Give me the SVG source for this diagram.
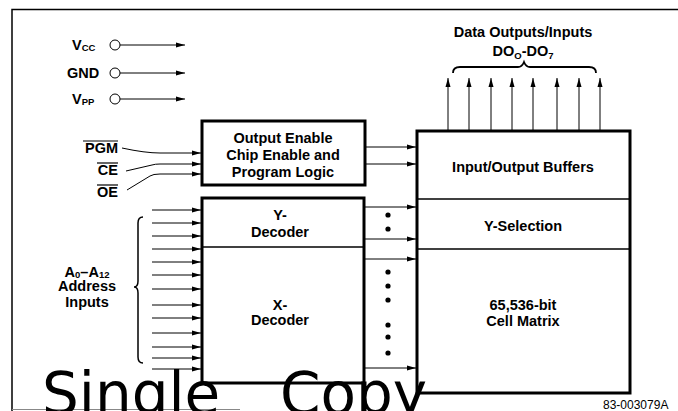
<svg xmlns="http://www.w3.org/2000/svg" width="678" height="411" viewBox="0 0 678 411">
<style>
.t{font-family:"Liberation Sans",Arial,sans-serif;font-weight:bold;font-size:14.5px;fill:#000}
.s{font-size:9.5px}
.c{text-anchor:middle}
.r{text-anchor:end}
.box{fill:none;stroke:#000;stroke-width:3}
.div{stroke:#000;stroke-width:1.6}
.w{stroke:#000;stroke-width:1;fill:none}
.dot{fill:#000}
.wm{font-family:"DejaVu Sans",sans-serif;font-size:58px;fill:#000}
</style>
<defs>
<marker id="ah" markerUnits="userSpaceOnUse" markerWidth="9" markerHeight="6" refX="9" refY="3" orient="auto">
<path d="M0,0.5 L9,3 L0,5.5 z" fill="#000"/>
</marker>
</defs>
<rect width="678" height="411" fill="#fff"/>
<g id="frame">
<path d="M12,411 V9.5 H678" fill="none" stroke="#000" stroke-width="1.5"/>
<line x1="12" y1="409.5" x2="240" y2="409.5" stroke="#888" stroke-width="1.2"/>
</g>
<g id="power">
<text class="t" x="72" y="50">V<tspan class="s" dy="1">CC</tspan></text>
<text class="t" x="67" y="78">GND</text>
<text class="t" x="72" y="104">V<tspan class="s" dy="1">PP</tspan></text>
<circle cx="115" cy="45" r="5" fill="#fff" stroke="#000" stroke-width="1"/>
<circle cx="115" cy="73" r="5" fill="#fff" stroke="#000" stroke-width="1"/>
<circle cx="115" cy="99" r="5" fill="#fff" stroke="#000" stroke-width="1"/>
</g>
<g id="controls">
<text class="t r" x="118" y="153">PGM</text>
<text class="t r" x="118" y="175">CE</text>
<text class="t r" x="118" y="197">OE</text>
<line x1="83" y1="141" x2="118" y2="141" stroke="#000" stroke-width="1.2"/>
<line x1="97" y1="163" x2="118" y2="163" stroke="#000" stroke-width="1.2"/>
<line x1="97" y1="185" x2="118" y2="185" stroke="#000" stroke-width="1.2"/>
</g>
<g id="logic">
<rect class="box" x="202" y="121" width="163" height="64"/>
<text class="t c" x="283" y="143">Output Enable</text>
<text class="t c" x="283" y="160">Chip Enable and</text>
<text class="t c" x="283" y="177">Program Logic</text>
</g>
<g id="decoder">
<rect class="box" x="202" y="198" width="162" height="185"/>
<line class="div" x1="202" y1="247" x2="364" y2="247"/>
<text class="t c" x="280" y="220">Y-</text>
<text class="t c" x="280" y="237">Decoder</text>
<text class="t c" x="280" y="310">X-</text>
<text class="t c" x="280" y="325">Decoder</text>
</g>
<g id="memory">
<rect class="box" x="417" y="131" width="213" height="262"/>
<line class="div" x1="417" y1="199" x2="630" y2="199"/>
<line class="div" x1="417" y1="249" x2="630" y2="249"/>
<text class="t c" x="523" y="172">Input/Output Buffers</text>
<text class="t c" x="523" y="231">Y-Selection</text>
<text class="t c" x="523" y="310">65,536-bit</text>
<text class="t c" x="523" y="326">Cell Matrix</text>
</g>
<g id="data-label">
<text class="t c" x="523" y="37">Data Outputs/Inputs</text>
<text class="t c" x="523" y="56">DO<tspan class="s" dy="3">O</tspan><tspan dy="-3">-DO</tspan><tspan class="s" dy="3">7</tspan></text>
<path d="M453,73 Q453,67 460,67 H518 Q522,67 524,62 Q526,67 530,67 H589 Q596,67 596,73" fill="none" stroke="#000" stroke-width="1.8"/>
</g>
<g id="address-label">
<text class="t c" x="87" y="277">A<tspan class="s" dy="1">0</tspan><tspan dy="-1">–A</tspan><tspan class="s" dy="1">12</tspan></text>
<text class="t c" x="87" y="291">Address</text>
<text class="t c" x="87" y="307">Inputs</text>
<path d="M143,217 Q138,217 138,223 V281 Q138,287 134,287 Q138,287 138,293 V357 Q138,363 143,363" fill="none" stroke="#000" stroke-width="1.5"/>
</g>
<g id="dots">
<circle class="dot" cx="388" cy="215" r="2.6"/>
<circle class="dot" cx="388" cy="229" r="2.6"/>
<circle class="dot" cx="388" cy="272" r="2.6"/>
<circle class="dot" cx="388" cy="286" r="2.6"/>
<circle class="dot" cx="388" cy="300" r="2.6"/>
<circle class="dot" cx="388" cy="325" r="2.6"/>
<circle class="dot" cx="388" cy="337" r="2.6"/>
<circle class="dot" cx="388" cy="353" r="2.6"/>
</g>
<g id="connectors" marker-end="url(#ah)">
<line class="w" x1="120" y1="45" x2="185" y2="45"/>
<line class="w" x1="120" y1="73" x2="185" y2="73"/>
<line class="w" x1="120" y1="99" x2="185" y2="99"/>
<path class="w" d="M122,148 Q145,153 160,153 H201"/>
<path class="w" d="M126,171 L152,165 Q155,164 160,164 H201"/>
<path class="w" d="M127,190 L150,176 Q153,174 160,174 H201"/>
<line class="w" x1="365" y1="147" x2="416" y2="147"/>
<line class="w" x1="365" y1="164" x2="416" y2="164"/>
<line class="w" x1="365" y1="207" x2="416" y2="207"/>
<line class="w" x1="365" y1="239" x2="416" y2="239"/>
<line class="w" x1="365" y1="259" x2="416" y2="259"/>
<line class="w" x1="365" y1="368" x2="416" y2="368"/>
<line class="w" x1="152" y1="210" x2="201" y2="210"/>
<line class="w" x1="152" y1="223" x2="201" y2="223"/>
<line class="w" x1="152" y1="236" x2="201" y2="236"/>
<line class="w" x1="152" y1="249" x2="201" y2="249"/>
<line class="w" x1="152" y1="262" x2="201" y2="262"/>
<line class="w" x1="152" y1="275" x2="201" y2="275"/>
<line class="w" x1="152" y1="289" x2="201" y2="289"/>
<line class="w" x1="152" y1="305" x2="201" y2="305"/>
<line class="w" x1="152" y1="318" x2="201" y2="318"/>
<line class="w" x1="152" y1="333" x2="201" y2="333"/>
<line class="w" x1="152" y1="347" x2="201" y2="347"/>
<line class="w" x1="152" y1="358" x2="201" y2="358"/>
<line class="w" x1="152" y1="369" x2="201" y2="369"/>
<line class="w" x1="448" y1="130" x2="448" y2="78"/>
<line class="w" x1="469" y1="130" x2="469" y2="78"/>
<line class="w" x1="491" y1="130" x2="491" y2="78"/>
<line class="w" x1="512" y1="130" x2="512" y2="78"/>
<line class="w" x1="533" y1="130" x2="533" y2="78"/>
<line class="w" x1="557" y1="130" x2="557" y2="78"/>
<line class="w" x1="579" y1="130" x2="579" y2="78"/>
<line class="w" x1="600" y1="130" x2="600" y2="78"/>
</g>
<g id="watermark">
<text class="wm" x="42" y="414">Single</text>
<text class="wm" x="280" y="414">Copy</text>
</g>
<text id="ref" x="603" y="409" font-family="'Liberation Sans',Arial,sans-serif" font-size="12" fill="#000">83-003079A</text>
</svg>
